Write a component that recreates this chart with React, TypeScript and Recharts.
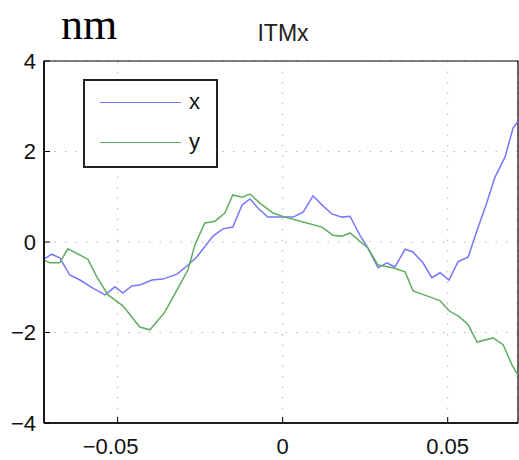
import React from 'react';
import { LineChart, Line, XAxis, YAxis, CartesianGrid, ReferenceArea, Legend } from 'recharts';

// time (s) and displacement (nm)
const tX = [
  -0.0723, -0.07, -0.0675, -0.0645, -0.0614, -0.0575, -0.0538, -0.0508, -0.0484, -0.0457,
  -0.0433, -0.0396, -0.0363, -0.032, -0.029, -0.026, -0.0211, -0.0181, -0.0151, -0.0123,
  -0.0099, -0.0072, -0.0045, 0.0007, 0.0032, 0.0062, 0.0092, 0.0119, 0.0149, 0.018,
  0.0204, 0.0234, 0.0258, 0.0289, 0.0316, 0.034, 0.0371, 0.0395, 0.0425, 0.0452,
  0.0477, 0.0504, 0.0531, 0.0562, 0.0589, 0.0619, 0.0643, 0.0674, 0.0698, 0.0713,
];
const xNm = [
  -0.38, -0.27, -0.35, -0.73, -0.84, -1.02, -1.17, -0.99, -1.13, -0.97,
  -0.95, -0.84, -0.82, -0.71, -0.53, -0.33, 0.13, 0.29, 0.33, 0.82,
  0.95, 0.73, 0.55, 0.55, 0.55, 0.66, 1.02, 0.82, 0.62, 0.55,
  0.57, 0.15, -0.13, -0.57, -0.46, -0.55, -0.16, -0.22, -0.46, -0.79,
  -0.68, -0.84, -0.44, -0.33, 0.26, 0.88, 1.43, 1.88, 2.52, 2.67,
];
const tY = [
  -0.0723, -0.0705, -0.0675, -0.0651, -0.059, -0.0563, -0.0529, -0.0484, -0.0433, -0.0402,
  -0.0357, -0.0317, -0.0287, -0.0266, -0.0236, -0.0205, -0.0175, -0.0151, -0.0123, -0.0099,
  -0.0069, -0.0029, 0.0007, 0.0062, 0.0119, 0.0152, 0.018, 0.0204, 0.0258, 0.0289,
  0.0334, 0.0371, 0.0395, 0.0437, 0.0477, 0.0504, 0.0537, 0.0562, 0.0589, 0.0637,
  0.0668, 0.0695, 0.0713,
];
const yNm = [
  -0.4, -0.46, -0.46, -0.15, -0.38, -0.77, -1.17, -1.41, -1.88, -1.94,
  -1.55, -1.02, -0.62, -0.07, 0.42, 0.46, 0.64, 1.04, 0.99, 1.06,
  0.86, 0.64, 0.55, 0.44, 0.33, 0.15, 0.13, 0.2, -0.13, -0.51,
  -0.57, -0.66, -1.08, -1.19, -1.3, -1.52, -1.66, -1.83, -2.21, -2.12,
  -2.27, -2.72, -2.94,
];
const seriesNames = ['x', 'y'];
const xTicks = [-0.05, 0, 0.05];
const yTicks = [-4, -2, 0, 2, 4];
const xDomain = [-0.0723, 0.0713];
const yDomain = [-4, 4];
const chartTitle = 'ITMx';
const unitLabel = 'nm';

const xData = tX.map((t, i) => ({ t, v: xNm[i] }));
const yData = tY.map((t, i) => ({ t, v: yNm[i] }));

const BLUE = '#7676ff';
const GREEN = '#5fae5f';
const SANS = '"Liberation Sans", Arial, Helvetica, sans-serif';
const SERIF = '"Liberation Serif", "Times New Roman", serif';

const fmt = (v: number) => (v < 0 ? '\u2212' + String(Math.abs(v)) : String(v));

const XTick = (props: any) => {
  const { x, y, payload } = props;
  const v = payload.value as number;
  return (
    <text x={x - (v < 0 ? 7 : 0)} y={y} dy="0.71em" textAnchor="middle" fontFamily={SANS} fontSize={22} fill="#111">
      {fmt(v)}
    </text>
  );
};

const YTick = (props: any) => {
  const { x, y, payload } = props;
  return (
    <text x={x} y={y} dy="0.355em" textAnchor="end" fontFamily={SANS} fontSize={22} fill="#111">
      {fmt(payload.value)}
    </text>
  );
};

const LegendBox = () => (
  <div
    style={{
      width: 131,
      height: 85,
      border: '2px solid #222',
      background: '#fff',
      position: 'relative',
      fontFamily: SANS,
      fontSize: 22,
      color: '#111',
    }}
  >
    {[BLUE, GREEN].map((c, i) => (
      <div key={i} style={{ position: 'absolute', left: 15, top: 21 + i * 40, width: 81, height: 0, borderTop: `1.5px solid ${c}` }} />
    ))}
    {seriesNames.map((n, i) => (
      <div key={n} style={{ position: 'absolute', left: 104, top: 8 + i * 40, lineHeight: '26px' }}>
        {n}
      </div>
    ))}
  </div>
);

export default function App() {
  return (
    <div style={{ position: 'absolute', left: 0, top: 0, width: 519, height: 460, background: '#fff' }}>
      <LineChart width={519} height={460} margin={{ top: 61, right: 1, bottom: 0, left: 0 }}>
        <CartesianGrid stroke="#b5b5b5" strokeDasharray="1.5 9" />
        <XAxis
          dataKey="t"
          type="number"
          domain={xDomain}
          allowDataOverflow
          ticks={xTicks}
          tickSize={-6}
          tickMargin={21}
          tick={<XTick />}
          stroke="#000"
          axisLine={{ stroke: '#000', strokeWidth: 1.5 }}
          height={37}
        />
        <XAxis
          xAxisId="top"
          orientation="top"
          dataKey="t"
          type="number"
          domain={xDomain}
          allowDataOverflow
          ticks={xTicks}
          tickSize={-6}
          tickFormatter={() => ''}
          stroke="#000"
          height={0}
        />
        <YAxis
          type="number"
          domain={yDomain}
          ticks={yTicks}
          tickSize={-6}
          tickMargin={14}
          tick={<YTick />}
          stroke="#000"
          axisLine={{ stroke: '#000', strokeWidth: 1.5 }}
          width={44}
        />
        <YAxis
          yAxisId="right"
          orientation="right"
          type="number"
          domain={yDomain}
          ticks={yTicks}
          tickSize={-6}
          tickFormatter={() => ''}
          stroke="#000"
          width={0}
        />
        <ReferenceArea x1={xDomain[0]} x2={xDomain[1]} y1={yDomain[0]} y2={yDomain[1]} fill="none" stroke="#000" strokeWidth={1.2} ifOverflow="extendDomain" />
        <Line data={xData} dataKey="v" name={seriesNames[0]} stroke={BLUE} strokeWidth={1.5} dot={false} isAnimationActive={false} type="linear" />
        <Line data={yData} dataKey="v" name={seriesNames[1]} stroke={GREEN} strokeWidth={1.5} dot={false} isAnimationActive={false} type="linear" />
        <Legend
          layout="horizontal"
          verticalAlign="middle"
          align="center"
          content={() => <LegendBox />}
          wrapperStyle={{ left: 83, top: 79, width: 135, height: 89 }}
        />
      </LineChart>
      <div style={{ position: 'absolute', left: 61, top: 0, fontFamily: SERIF, fontSize: 44, color: '#000', lineHeight: '49px' }}>
        {unitLabel}
      </div>
      <div style={{ position: 'absolute', left: 0, width: 566, top: 20, textAlign: 'center', fontFamily: SANS, fontSize: 23, color: '#222', lineHeight: '26px' }}>
        {chartTitle}
      </div>
    </div>
  );
}
